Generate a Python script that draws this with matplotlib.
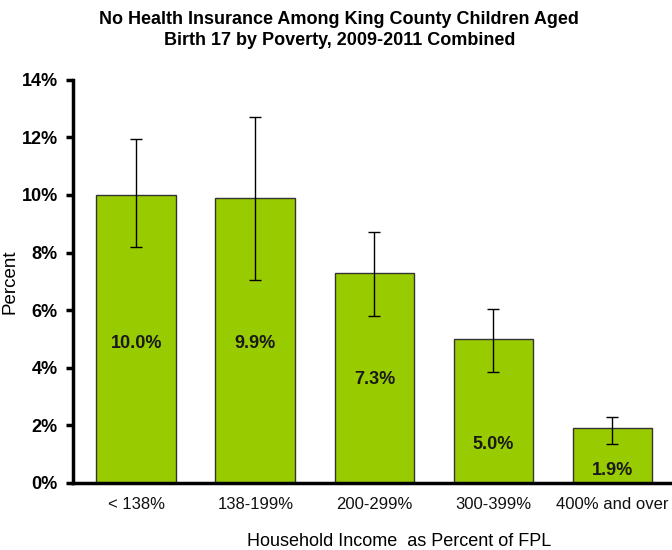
import numpy as np
import matplotlib.pyplot as plt
from matplotlib.ticker import FuncFormatter

plt.rcParams['font.family'] = ['Liberation Sans', 'DejaVu Sans']

categories = ["< 138%", "138-199%", "200-299%", "300-399%", "400% and over"]
values = [10.0, 9.9, 7.3, 5.0, 1.9]
ci_low = [8.2, 7.05, 5.8, 3.85, 1.35]
ci_high = [11.95, 12.7, 8.7, 6.05, 2.28]
label_y = [4.85, 4.85, 3.6, 1.35, 0.42]

fig = plt.figure(figsize=(6.72, 5.5), dpi=100)
ax = fig.add_axes([0.109, 0.122, 0.891, 0.733])

x = np.arange(len(categories))
err = [np.array(values) - np.array(ci_low), np.array(ci_high) - np.array(values)]
ax.bar(x, values, width=0.67, color="#99CC00", edgecolor="#333333", linewidth=1.0, zorder=2)
ax.errorbar(x, values, yerr=err, fmt="none", ecolor="black", elinewidth=1.0,
            capsize=4, capthick=1.0, zorder=3)

for xi, v, ly in zip(x, values, label_y):
    ax.text(xi, ly, f"{v:.1f}%", ha="center", va="center", fontsize=13,
            fontweight="bold", color="#1a1a1a", zorder=4)

ax.set_xlim(-0.53, 4.5)
ax.set_ylim(0, 14)
ax.set_yticks(np.arange(0, 15, 2))
ax.yaxis.set_major_formatter(FuncFormatter(lambda v, p: f"{v:.0f}%"))
ax.set_xticks(x)
ax.set_xticklabels(categories, fontsize=12, color="#111111")

for s in ["top", "right"]:
    ax.spines[s].set_visible(False)
ax.spines["left"].set_linewidth(2.5)
ax.spines["bottom"].set_linewidth(2.5)
ax.tick_params(axis="y", length=5, width=2.5, labelsize=13, pad=6)
ax.tick_params(axis="x", length=0, pad=10)
for lbl in ax.get_yticklabels():
    lbl.set_fontweight("bold")

ax.set_ylabel("Percent", fontsize=13.5, labelpad=2)
ax.set_xlabel("Household Income  as Percent of FPL", fontsize=13)
ax.xaxis.set_label_coords(0.545, -0.125)

fig.text(0.505, 1 - 11 / 550,
         "No Health Insurance Among King County Children Aged\nBirth 17 by Poverty, 2009-2011 Combined",
         ha="center", va="top", fontsize=13, fontweight="bold", linespacing=1.3)

fig.savefig("out.png", dpi=100)
